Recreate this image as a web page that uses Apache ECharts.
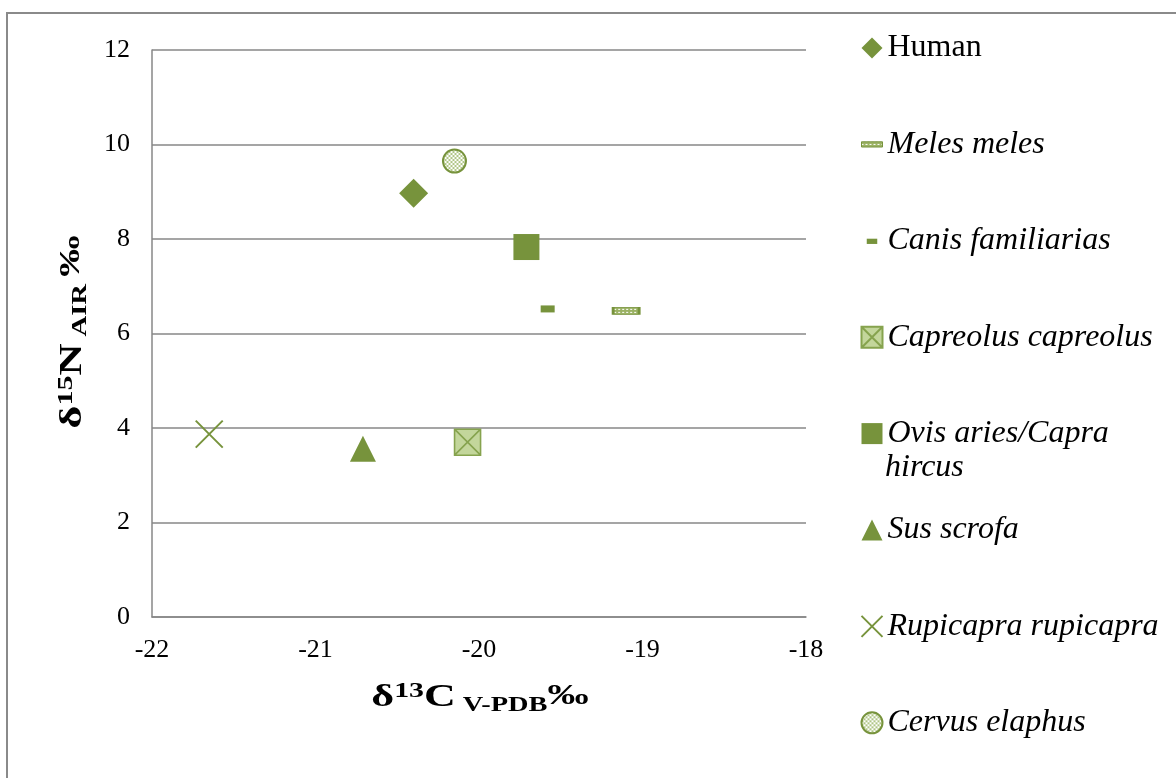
<!DOCTYPE html>
<html>
<head>
<meta charset="utf-8">
<script src="https://cdn.jsdelivr.net/npm/echarts@6/dist/echarts.min.js"></script>
<style>
  html, body { margin: 0; padding: 0; background: #fff; }
  #chart { width: 1176px; height: 778px; }
</style>
</head>
<body>
<div id="chart"></div>
<script>
// Stable isotope values (bone collagen), one point per taxon
const species = ['Human', 'Meles meles', 'Canis familiarias', 'Capreolus capreolus',
                 'Ovis aries/Capra hircus', 'Sus scrofa', 'Rupicapra rupicapra', 'Cervus elaphus'];
const d13C = [-20.40, -19.10, -19.58, -20.07, -19.71, -20.71, -21.65, -20.15];
const d15N = [8.97, 6.48, 6.52, 3.70, 7.83, 3.56, 3.87, 9.65];
const xTicks = [-22, -21, -20, -19, -18];
const yTicks = [0, 2, 4, 6, 8, 10, 12];

const GREEN = '#77933C';
const LIGHT = '#C3D69B';
const SERIF = '"Liberation Serif", "Times New Roman", serif';

// small repeating fills for the patterned markers; symbols are drawn as a
// 2x2 unit shape scaled up, so the plot copies are pre-shrunk by the same factor
function pattern(w, h, draw, sx, sy) {
  const c = document.createElement('canvas');
  c.width = w; c.height = h;
  draw(c.getContext('2d'));
  return { image: c, repeat: 'repeat', scaleX: sx || 1, scaleY: sy || 1 };
}
const drawChecker = g => {
  g.fillStyle = '#ffffff'; g.fillRect(0, 0, 4, 4);
  g.fillStyle = '#AFC585'; g.fillRect(0, 0, 2, 2); g.fillRect(2, 2, 2, 2);
};
const drawDotted = g => {
  g.fillStyle = '#9BB264'; g.fillRect(0, 0, 4, 3);
  g.fillStyle = '#ffffff'; g.fillRect(0, 1, 2, 1);
};

const CROSS = 'path://M0,0L10,10M10,0L0,10';
const XBOX = 'path://M0,0L10,0L10,10L0,10Z M0,0L10,10 M10,0L0,10';

const styles = [
  { symbol: 'diamond', size: [29, 29], item: { color: GREEN } },
  { symbol: 'rect', size: [26, 7],
    item: { color: pattern(4, 3, drawDotted, 2 / 26, 2 / 7), borderColor: GREEN, borderWidth: 1.5 },
    legendItem: { color: pattern(4, 3, drawDotted), borderColor: GREEN, borderWidth: 1 },
    icon: 'path://M0,0h20v5h-20z' },
  { symbol: 'rect', size: [14, 7], item: { color: GREEN },
    icon: 'path://M0,0L0,0M20,20L20,20M5,8h10v5h-10z' },
  { symbol: XBOX, size: [26, 26], item: { color: LIGHT, borderColor: '#86A34E', borderWidth: 1.6 } },
  { symbol: 'rect', size: [26, 26], item: { color: GREEN } },
  { symbol: 'triangle', size: [26, 26], item: { color: GREEN } },
  { symbol: CROSS, size: [27, 27], item: { color: 'none', borderColor: GREEN, borderWidth: 2 } },
  { symbol: 'circle', size: [23, 23],
    item: { color: pattern(4, 4, drawChecker, 2 / 23, 2 / 23), borderColor: GREEN, borderWidth: 2 },
    legendItem: { color: pattern(4, 4, drawChecker), borderColor: GREEN, borderWidth: 2 } }
];

const series = species.map((name, i) => ({
  name: name,
  type: 'scatter',
  symbol: styles[i].symbol,
  symbolSize: styles[i].size,
  itemStyle: Object.assign({ opacity: 1 }, styles[i].item),
  emphasis: { disabled: true },
  data: [[d13C[i], d15N[i]]],
  z: 3
}));

const legendLabel = n => n === 'Ovis aries/Capra hircus' ? 'Ovis aries/Capra' : n;

const titleRich = {
  b: { fontFamily: SERIF, fontWeight: 'bold', fontSize: 31, color: '#000', lineHeight: 40, verticalAlign: 'middle' },
  s: { fontFamily: SERIF, fontWeight: 'bold', fontSize: 21, color: '#000', lineHeight: 40, verticalAlign: 'top', padding: [3, 0, 0, 0] },
  u: { fontFamily: SERIF, fontWeight: 'bold', fontSize: 20, color: '#000', lineHeight: 40, verticalAlign: 'bottom', padding: [0, 0, 2, 0] },
  p: { fontFamily: SERIF, fontWeight: 'bold', fontSize: 29, color: '#000', lineHeight: 40, verticalAlign: 'top', padding: [4, 0, 0, 0] }
};

const chart = echarts.init(document.getElementById('chart'), null, { renderer: 'canvas' });
chart.setOption({
  animation: false,
  backgroundColor: '#ffffff',
  grid: { left: 152, right: 370, top: 50, bottom: 161, containLabel: false },
  xAxis: {
    type: 'value', min: xTicks[0], max: xTicks[xTicks.length - 1], interval: 1,
    axisLine: { show: true, onZero: false, lineStyle: { color: '#878787', width: 1.5 } },
    axisTick: { show: false },
    splitLine: { show: false },
    axisLabel: { color: '#000', fontFamily: SERIF, fontSize: 26, margin: 20 }
  },
  yAxis: {
    type: 'value', min: yTicks[0], max: yTicks[yTicks.length - 1], interval: 2,
    axisLine: { show: true, lineStyle: { color: '#878787', width: 1.5 } },
    axisTick: { show: false },
    splitLine: { show: true, lineStyle: { color: '#878787', width: 1.5 } },
    axisLabel: { color: '#000', fontFamily: SERIF, fontSize: 26, margin: 22 }
  },
  legend: {
    orient: 'vertical', left: 859, top: 32, padding: 0,
    itemWidth: 21, itemHeight: 21, itemGap: 64.4,
    selectedMode: false,
    data: species.map((n, i) => {
      const d = { name: n };
      if (styles[i].icon) d.icon = styles[i].icon;
      if (styles[i].legendItem) d.itemStyle = styles[i].legendItem;
      return d;
    }),
    formatter: n => (n === 'Human' ? '{n|' : '{i|') + legendLabel(n) + '}',
    textStyle: {
      rich: {
        n: { fontFamily: SERIF, fontSize: 32, color: '#000', lineHeight: 32 },
        i: { fontFamily: SERIF, fontSize: 32, fontStyle: 'italic', color: '#000', lineHeight: 32 }
      }
    }
  },
  graphic: [
    { type: 'rect', silent: true, z: -10,
      shape: { x: 7, y: 13, width: 1300, height: 900 },
      style: { fill: 'none', stroke: '#8a8a8a', lineWidth: 2 } },
    { type: 'text', left: 885, top: 452, silent: true,
      style: { text: 'hircus', fontFamily: SERIF, fontSize: 32, fontStyle: 'italic', fill: '#000' } },
    // axis titles
    { type: 'text', x: 480, y: 698, scaleX: 1.42, silent: true,
      style: { text: '{b|δ}{s|13}{b|C}{u| V-PDB}{p|‰}', rich: titleRich, align: 'center', verticalAlign: 'middle' } },
    { type: 'text', x: 73, y: 332, rotation: Math.PI / 2, scaleX: 1.43, silent: true,
      style: { text: '{b|δ}{s|15}{b|N}{u| AIR }{p|‰}', rich: titleRich, align: 'center', verticalAlign: 'middle' } }
  ],
  series: series
});
</script>
</body>
</html>
